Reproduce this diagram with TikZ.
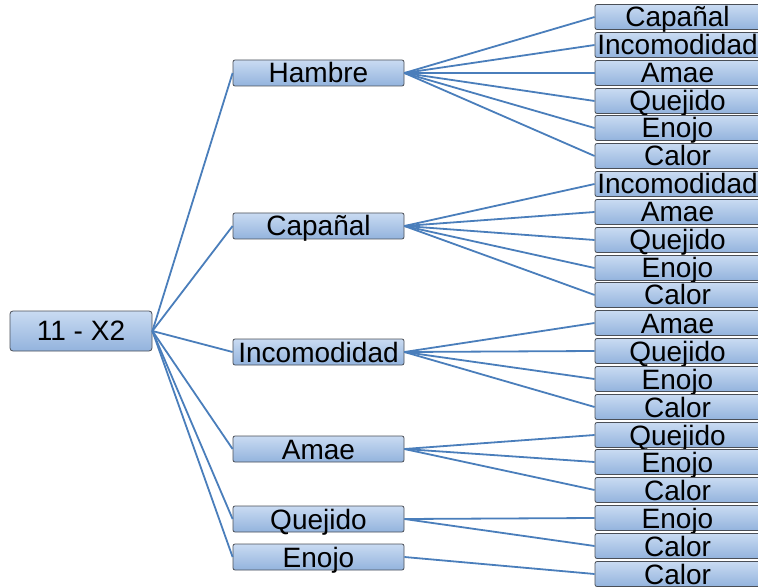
\documentclass[tikz,border=0pt]{standalone}
\usepackage{fontspec}
\setmainfont{Liberation Sans}
\usepackage{tikz}
\usetikzlibrary{positioning}
\definecolor{boxTop}{HTML}{C9DBF2}
\definecolor{boxBottom}{HTML}{93B3DD}
\definecolor{boxEdge}{HTML}{4A4F57}
\definecolor{linkBlue}{HTML}{4A7EBB}

\begin{document}
\begin{tikzpicture}[
  x=1pt, y=-1pt,
  font=\fontsize{28}{28}\selectfont,
  rootbox/.style={draw=boxEdge, line width=0.8pt, rounded corners=3pt, inner sep=0pt,
               top color=boxTop, bottom color=boxBottom, text height=21pt, text depth=3pt,
               minimum width=142pt, minimum height=40pt},
  midbox/.style={draw=boxEdge, line width=0.8pt, rounded corners=2pt, inner sep=0pt,
               top color=boxTop, bottom color=boxBottom, text height=22pt, text depth=2pt,
               minimum width=171pt, minimum height=26pt},
  leafbox/.style={draw=boxEdge, line width=0.8pt, rounded corners=2pt, inner sep=0pt,
               top color=boxTop, bottom color=boxBottom, text height=22pt, text depth=2pt,
               minimum width=165pt, minimum height=25pt},
  link/.style={draw=linkBlue, line width=1.8pt}
]
\useasboundingbox (0,0) rectangle (758,588);

% root
\node[rootbox] (raiz) at (81,331) {11 - X2};

% second level
\node[midbox] (hambre) at (318.5,73) {Hambre};
\node[midbox] (capanal) at (318.5,226) {Capañal};
\node[midbox] (incomodidad) at (318.5,352) {Incomodidad};
\node[midbox] (amae) at (318.5,449) {Amae};
\node[midbox] (quejido) at (318.5,519) {Quejido};
\node[midbox] (enojo) at (318.5,557) {Enojo};

% leaves
\node[leafbox] (h1) at (677.5,17) {Capañal};
\node[leafbox] (h2) at (677.5,45) {Incomodidad};
\node[leafbox] (h3) at (677.5,73) {Amae};
\node[leafbox] (h4) at (677.5,101) {Quejido};
\node[leafbox] (h5) at (677.5,128) {Enojo};
\node[leafbox] (h6) at (677.5,156) {Calor};
\node[leafbox] (c1) at (677.5,184) {Incomodidad};
\node[leafbox] (c2) at (677.5,212) {Amae};
\node[leafbox] (c3) at (677.5,240) {Quejido};
\node[leafbox] (c4) at (677.5,268) {Enojo};
\node[leafbox] (c5) at (677.5,295) {Calor};
\node[leafbox] (i1) at (677.5,323) {Amae};
\node[leafbox] (i2) at (677.5,351) {Quejido};
\node[leafbox] (i3) at (677.5,379) {Enojo};
\node[leafbox] (i4) at (677.5,407) {Calor};
\node[leafbox] (a1) at (677.5,435) {Quejido};
\node[leafbox] (a2) at (677.5,462) {Enojo};
\node[leafbox] (a3) at (677.5,490) {Calor};
\node[leafbox] (q1) at (677.5,518) {Enojo};
\node[leafbox] (q2) at (677.5,546) {Calor};
\node[leafbox] (e1) at (677.5,574) {Calor};

% root links
\draw[link] (raiz.east) -- (hambre.west);
\draw[link] (raiz.east) -- (capanal.west);
\draw[link] (raiz.east) -- (incomodidad.west);
\draw[link] (raiz.east) -- (amae.west);
\draw[link] (raiz.east) -- (quejido.west);
\draw[link] (raiz.east) -- (enojo.west);

% leaf links
\draw[link] (hambre.east) -- (h1.west);
\draw[link] (hambre.east) -- (h2.west);
\draw[link] (hambre.east) -- (h3.west);
\draw[link] (hambre.east) -- (h4.west);
\draw[link] (hambre.east) -- (h5.west);
\draw[link] (hambre.east) -- (h6.west);
\draw[link] (capanal.east) -- (c1.west);
\draw[link] (capanal.east) -- (c2.west);
\draw[link] (capanal.east) -- (c3.west);
\draw[link] (capanal.east) -- (c4.west);
\draw[link] (capanal.east) -- (c5.west);
\draw[link] (incomodidad.east) -- (i1.west);
\draw[link] (incomodidad.east) -- (i2.west);
\draw[link] (incomodidad.east) -- (i3.west);
\draw[link] (incomodidad.east) -- (i4.west);
\draw[link] (amae.east) -- (a1.west);
\draw[link] (amae.east) -- (a2.west);
\draw[link] (amae.east) -- (a3.west);
\draw[link] (quejido.east) -- (q1.west);
\draw[link] (quejido.east) -- (q2.west);
\draw[link] (enojo.east) -- (e1.west);
\end{tikzpicture}
\end{document}
